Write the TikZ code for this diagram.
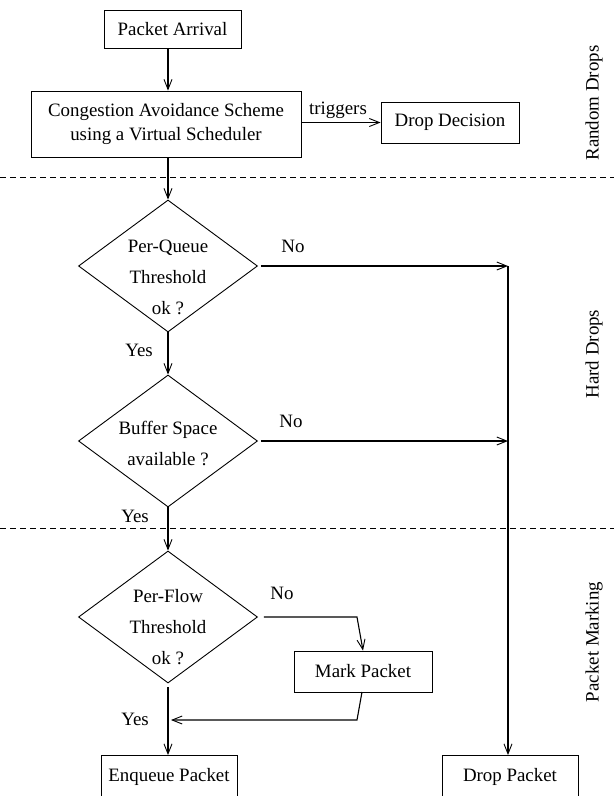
\documentclass[tikz,border=0pt]{standalone}
\usepackage{fontspec}
\setmainfont{Liberation Serif}
\usetikzlibrary{shapes.geometric,arrows.meta}

\tikzset{
  base/.style={font=\fontsize{18.9}{24}\selectfont},
  procbox/.style={base,draw,line width=0.9pt,inner sep=0pt,align=center},
  decision/.style={draw,diamond,line width=0.9pt,inner sep=0pt,
                   minimum width=179pt,minimum height=132pt},
  dtext/.style={font=\fontsize{18.9}{31}\selectfont,align=center,inner sep=0pt},
  lbl/.style={base,inner sep=0pt},
  side/.style={base,inner sep=0pt,rotate=90},
  flow/.style={line width=1.1pt,-{Straight Barb[length=10pt,width=8pt,line width=0.9pt]}},
  divider/.style={line width=0.8pt,dash pattern=on 6pt off 4pt}
}

\begin{document}
\begin{tikzpicture}[x=1pt,y=-1pt]
\useasboundingbox (0,0) rectangle (614,796);

% process boxes
\node[procbox,minimum width=137pt,minimum height=38pt] (arrival) at (172.5,29) {Packet Arrival};
\node[procbox,minimum width=270pt,minimum height=66pt] (cas) at (166,124)
  {Congestion Avoidance Scheme\\using a Virtual Scheduler};
\node[procbox,minimum width=138pt,minimum height=41pt] (dropdec) at (450,122.5) {Drop Decision};
\node[procbox,minimum width=138pt,minimum height=41pt] (mark) at (363,671.5) {Mark Packet};
\node[procbox,minimum width=136pt,minimum height=43pt] (enq) at (169,777) {Enqueue Packet};
\node[procbox,minimum width=136pt,minimum height=43pt] (droppkt) at (510,777) {Drop Packet};

% decisions
\node[decision] (d1) at (168,266) {};
\node[decision] (d2) at (168,441) {};
\node[decision] (d3) at (168,617) {};
\node[dtext] (d1t) at (168,277) {Per-Queue\\Threshold\\ok ?};
\node[dtext] (d2t) at (168,443) {Buffer Space\\available ?};
\node[dtext] (d3t) at (168,627) {Per-Flow\\Threshold\\ok ?};

% section dividers and their names
\coordinate (divAl) at (0,177);
\coordinate (divAr) at (614,177);
\coordinate (divBl) at (0,528);
\coordinate (divBr) at (614,528);
\draw[divider] (divAl) -- (divAr);
\draw[divider] (divBl) -- (divBr);
\node[side] (secA) at (594,103) {Random Drops};
\node[side] (secB) at (594,354) {Hard Drops};
\node[side] (secC) at (594,642) {Packet Marking};

% main flow
\draw[flow] (arrival.south -| d1.north) -- (cas.north -| d1.north);
\draw[flow] (cas.east |- dropdec.west) -- (dropdec.west);
\node[lbl] (trig) at (338,110) {triggers};
\draw[flow] (cas.south -| d1.north) -- (d1.north);
\draw[flow] (d1.south) -- (d2.north);
\draw[flow] (d2.south) -- (d3.north);
\coordinate (d3out) at ([yshift=-4pt]d3.south);
\draw[flow] (d3out) -- (d3out |- enq.north);

% drop branch
\coordinate (j1) at (508,266);
\coordinate (j2) at (508,441);
\draw[flow] ([xshift=3pt]d1.east) -- (j1);
\draw[flow] ([xshift=3pt]d2.east) -- (j2);
\draw[flow] (j1) -- (j1 |- droppkt.north);

% marking branch
\coordinate (m1) at (357,617);
\coordinate (m2) at (362,692);
\coordinate (m3) at (357,720);
\coordinate (m4) at (171,720);
\draw[flow] ([xshift=6pt]d3.east) -- (m1) -- (mark.north);
\draw[flow] (m2) -- (m3) -- (m4);

% branch labels
\node[lbl] (no1) at (293,246) {No};
\node[lbl] (no2) at (291,421) {No};
\node[lbl] (no3) at (282,593) {No};
\node[lbl] (yes1) at (139,350) {Yes};
\node[lbl] (yes2) at (135,516) {Yes};
\node[lbl] (yes3) at (135,719) {Yes};
\end{tikzpicture}
\end{document}
